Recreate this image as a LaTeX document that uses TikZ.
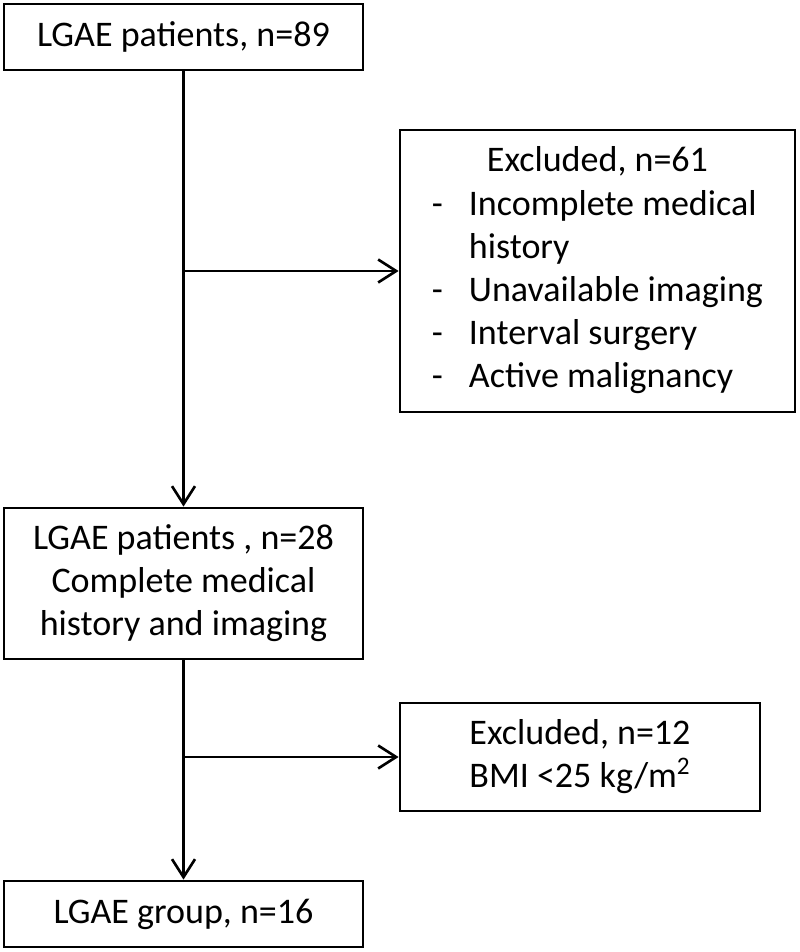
\documentclass[tikz,border=0pt]{standalone}
\usepackage{fontspec}
\setmainfont{Carlito}
\usetikzlibrary{arrows.meta, positioning}

\begin{document}
\begin{tikzpicture}[x=0.02cm, y=-0.02cm,
    >={Straight Barb[length=3.6mm,width=4.6mm]},
    box/.style={draw, line width=1.6pt, inner sep=0pt, align=center,
        font=\fontsize{20.5}{24.5}\selectfont},
    link/.style={->, line width=1.5pt}]
    \useasboundingbox (0,0) rectangle (800,952);
    \node[box, at={(183.5,37)}, minimum width=359*0.02cm, minimum height=66*0.02cm] (pat89) {LGAE patients, n=89};
    \node[box, at={(597.5,271)}, minimum width=395*0.02cm, minimum height=282*0.02cm] (excl61)
        {\begin{tabular}{@{}p{0.74cm}@{}l@{}}
            \multicolumn{2}{c}{Excluded, n=61}\\
            - & Incomplete medical\\
              & history\\
            - & Unavailable imaging\\
            - & Interval surgery\\
            - & Active malignancy
        \end{tabular}};
    \node[box, at={(183.5,583.5)}, minimum width=359*0.02cm, minimum height=151*0.02cm] (pat28)
        {LGAE patients , n=28\\Complete medical\\history and imaging};
    \node[box, at={(580,757)}, minimum width=360*0.02cm, minimum height=108*0.02cm] (excl12)
        {Excluded, n=12\\BMI <25 kg/m\textsuperscript{2}};
    \node[box, at={(183.5,914)}, minimum width=359*0.02cm, minimum height=66*0.02cm] (grp16) {LGAE group, n=16};
    % connectors
    \draw[link] (pat89.south) -- (pat28.north);
    \draw[link] (pat89.south |- excl61.west) -- (excl61.west);
    \draw[link] (pat28.south) -- (grp16.north);
    \draw[link] (pat28.south |- excl12.west) -- (excl12.west);
\end{tikzpicture}
\end{document}
